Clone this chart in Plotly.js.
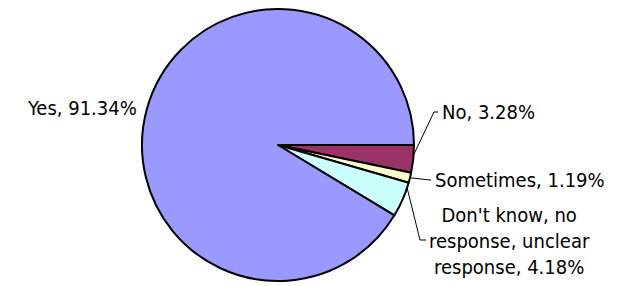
<!DOCTYPE html>
<html>
<head>
<meta charset="utf-8">
<script src="https://cdn.plot.ly/plotly-3.0.1.min.js"></script>
<style>html,body{margin:0;padding:0;background:#fff;}#chart{width:622px;height:286px;}</style>
</head>
<body>
<div id="chart"></div>
<script>
// Data
const categories = ["No", "Sometimes", "Don't know, no response, unclear response", "Yes"];
const percents = [3.28, 1.19, 4.18, 91.34];
const labelTexts = ["No, 3.28%", "Sometimes, 1.19%", "Don't know, no<br>response, unclear<br>response, 4.18%", "Yes, 91.34%"];
const colors = ["#993366", "#FFFFCC", "#CCFFFF", "#9999FF"];

const W = 622, H = 286;
const dom = {x: [0.2283, 0.6656], y: [0.0175, 0.9685]};

// label placement (layout, in pixels); frac = where along the slice the leader starts
const labelPos = [
  {x: 440, y: 112, xanchor: "left", elbow: [434, 112], frac: 0.35, leader: true},
  {x: 433, y: 180, xanchor: "left", elbow: [430, 180], frac: 0.5, leader: true},
  {x: 509, y: 241, xanchor: "center", elbow: [420, 240], end: [426, 240], frac: 0.15, leader: true},
  {x: 139, y: 108, xanchor: "right", leader: false}
];

const cx = (dom.x[0] + dom.x[1]) / 2 * W;
const cy = (1 - (dom.y[0] + dom.y[1]) / 2) * H;
const r = Math.min((dom.x[1] - dom.x[0]) * W, (dom.y[1] - dom.y[0]) * H) / 2;
const total = percents.reduce((a, b) => a + b, 0);

const px = x => x / W;
const py = y => 1 - y / H;

const annotations = [];
const shapes = [];
let cum = 0;
percents.forEach((v, i) => {
  const L = labelPos[i];
  const ang = (cum + v * (L.frac || 0.5)) / total * 2 * Math.PI; // clockwise from 3 o'clock
  cum += v;
  annotations.push({
    xref: "paper", yref: "paper", x: px(L.x), y: py(L.y),
    xanchor: L.xanchor, yanchor: "middle", align: "center",
    text: labelTexts[i], showarrow: false,
    font: {family: "DejaVu Sans Condensed, DejaVu Sans, sans-serif", size: 20, color: "#000"}
  });
  if (L.leader) {
    const sx = cx + r * Math.cos(ang), sy = cy + r * Math.sin(ang);
    const end = L.end || [L.x - 2, L.y];
    shapes.push({
      type: "path", xref: "paper", yref: "paper",
      path: `M ${px(sx)} ${py(sy)} L ${px(L.elbow[0])} ${py(L.elbow[1])} L ${px(end[0])} ${py(end[1])}`,
      line: {color: "#000", width: 1}
    });
  }
});

const trace = {
  type: "pie",
  labels: categories,
  values: percents,
  sort: false,
  direction: "clockwise",
  rotation: 90,
  textinfo: "none",
  hoverinfo: "skip",
  marker: {colors: colors, line: {color: "#000", width: 2}},
  domain: dom,
  showlegend: false
};

const layout = {
  width: W, height: H,
  margin: {l: 0, r: 0, t: 0, b: 0},
  paper_bgcolor: "#fff",
  showlegend: false,
  annotations: annotations,
  shapes: shapes
};

Plotly.newPlot("chart", [trace], layout, {staticPlot: true, displayModeBar: false});
</script>
</body>
</html>
